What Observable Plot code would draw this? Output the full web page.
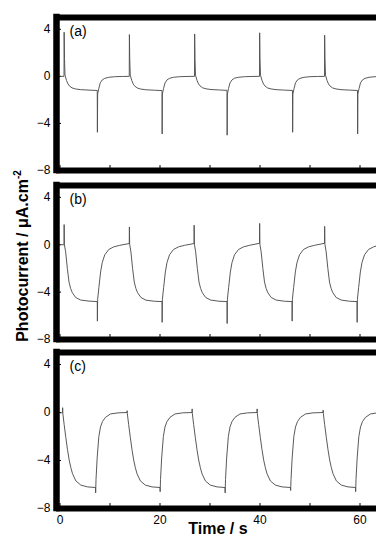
<!DOCTYPE html>
<html>
<head>
<meta charset="utf-8">
<script src="https://cdn.jsdelivr.net/npm/d3@7"></script>
<script src="https://cdn.jsdelivr.net/npm/@observablehq/plot@0.6"></script>
<style>
  html, body { margin: 0; padding: 0; background: #fff; }
  #fig { position: relative; width: 376px; height: 538px; overflow: hidden;
         font-family: "Liberation Sans", Arial, sans-serif; color: #000; }
  #fig svg { position: absolute; left: 0; }
  .axlab { position: absolute; font-weight: bold; font-size: 16px; line-height: 16px; white-space: nowrap; }
  .axlab sup { font-size: 10px; line-height: 0; vertical-align: 7px; }
</style>
</head>
<body>
<div id="fig"></div>
<script>
// ---------- data ----------
const panelLabels = ["(a)", "(b)", "(c)"];
const xTicks = [0, 20, 40, 60];
const xMinorTicks = [0, 10, 20, 30, 40, 50, 60];
const yTicks = [-8, -4, 0, 4];
const xDomain = [-0.7, 63.3];
const yDomain = [-8, 5];
const xLabel = "Time / s";
const yLabel = "Photocurrent / μA.cm";
const yLabelExp = "-2";

const timeA = [
  0.1, 0.8, 0.83, 0.9, 1.0, 1.3, 1.6, 1.9, 2.4, 3.1, 4.1, 5.8,
  7.45, 7.48, 7.53, 7.75, 8.05, 8.45, 8.95, 9.75, 10.95, 12.45,
  13.85, 13.88, 13.95, 14.05, 14.35, 14.65, 14.95, 15.45, 16.15, 17.15, 18.85,
  20.4, 20.43, 20.48, 20.7, 21.0, 21.4, 21.9, 22.7, 23.9, 25.4,
  26.9, 26.93, 27.0, 27.1, 27.4, 27.7, 28.0, 28.5, 29.2, 30.2, 31.9,
  33.4, 33.43, 33.48, 33.7, 34.0, 34.4, 34.9, 35.7, 36.9, 38.4,
  39.9, 39.93, 40.0, 40.1, 40.4, 40.7, 41.0, 41.5, 42.2, 43.2, 44.9,
  46.5, 46.53, 46.58, 46.8, 47.1, 47.5, 48.0, 48.8, 50.0, 51.5,
  52.9, 52.93, 53.0, 53.1, 53.4, 53.7, 54.0, 54.5, 55.2, 56.2, 57.9,
  59.5, 59.53, 59.58, 59.8, 60.1, 60.5, 61.0, 61.8, 63.0, 63.3
];
const currentA = [
  0, 0, 3.75, 1.5, 0.1, -0.35, -0.65, -0.82, -0.98, -1.07, -1.13, -1.17,
  -1.2, -4.75, -1.5, -1.05, -0.55, -0.3, -0.17, -0.08, -0.03, -0.01,
  0, 3.55, 1.4, 0.1, -0.35, -0.66, -0.83, -0.99, -1.08, -1.14, -1.18,
  -1.21, -4.9, -1.5, -1.05, -0.56, -0.3, -0.17, -0.08, -0.03, -0.01,
  0, 3.6, 1.45, 0.1, -0.34, -0.64, -0.81, -0.97, -1.06, -1.12, -1.16,
  -1.19, -5.0, -1.5, -1.04, -0.55, -0.3, -0.16, -0.08, -0.03, -0.01,
  0, 3.7, 1.5, 0.1, -0.35, -0.65, -0.82, -0.98, -1.07, -1.13, -1.17,
  -1.2, -4.75, -1.5, -1.05, -0.55, -0.3, -0.17, -0.08, -0.03, -0.01,
  0, 3.5, 1.4, 0.1, -0.35, -0.65, -0.82, -0.98, -1.07, -1.13, -1.17,
  -1.2, -4.9, -1.5, -1.05, -0.55, -0.3, -0.17, -0.08, -0.03, -0.03
];

const timeB = [
  0.1, 0.8, 0.83, 0.88, 1.13, 1.47, 1.8, 2.13, 2.47, 3.13, 4.13, 5.8,
  7.45, 7.48, 7.53, 7.78, 8.12, 8.45, 8.95, 9.75, 10.75, 11.95,
  13.85, 13.88, 13.93, 14.18, 14.52, 14.85, 15.18, 15.52, 16.18, 17.18, 18.85,
  20.4, 20.43, 20.48, 20.73, 21.07, 21.4, 21.9, 22.7, 23.7, 24.9,
  26.8, 26.83, 26.88, 27.13, 27.47, 27.8, 28.13, 28.47, 29.13, 30.13, 31.8,
  33.4, 33.43, 33.48, 33.73, 34.07, 34.4, 34.9, 35.7, 36.7, 37.9,
  39.9, 39.93, 39.98, 40.23, 40.57, 40.9, 41.23, 41.57, 42.23, 43.23, 44.9,
  46.4, 46.43, 46.48, 46.73, 47.07, 47.4, 47.9, 48.7, 49.7, 50.9,
  52.9, 52.93, 52.98, 53.23, 53.57, 53.9, 54.23, 54.57, 55.23, 56.23, 57.9,
  59.4, 59.43, 59.48, 59.73, 60.07, 60.4, 60.9, 61.7, 62.7, 63.3
];
const currentB = [
  0, 0, 1.7, 0.0, -0.6, -2.0, -3.15, -3.7, -4.05, -4.45, -4.67, -4.76,
  -4.8, -6.45, -4.6, -3.6, -2.3, -1.5, -0.85, -0.4, -0.18, -0.05,
  0.1, 1.5, 0.05, -0.6, -2.0, -3.15, -3.7, -4.05, -4.45, -4.68, -4.77,
  -4.8, -6.55, -4.6, -3.6, -2.3, -1.5, -0.85, -0.4, -0.18, -0.05,
  0.1, 1.65, 0.05, -0.6, -2.0, -3.15, -3.7, -4.05, -4.45, -4.67, -4.77,
  -4.8, -6.65, -4.6, -3.6, -2.3, -1.5, -0.85, -0.4, -0.18, -0.05,
  0.12, 1.8, 0.05, -0.6, -2.0, -3.15, -3.7, -4.05, -4.45, -4.67, -4.77,
  -4.8, -6.45, -4.6, -3.6, -2.3, -1.5, -0.85, -0.4, -0.18, -0.05,
  0.12, 1.55, 0.05, -0.6, -2.0, -3.15, -3.7, -4.05, -4.45, -4.67, -4.77,
  -4.8, -6.55, -4.6, -3.6, -2.3, -1.5, -0.85, -0.4, -0.18, -0.1
];

const timeC = [
  0.1, 0.5, 0.53, 0.57, 0.83, 1.17, 1.5, 1.83, 2.17, 2.5, 3.17, 4.17, 5.5,
  7.1, 7.13, 7.2, 7.43, 7.77, 8.1, 8.5, 9.1, 10.1, 11.6,
  13.4, 13.43, 13.47, 13.73, 14.07, 14.4, 14.73, 15.07, 15.4, 16.07, 17.07, 18.4,
  20.0, 20.03, 20.1, 20.33, 20.67, 21.0, 21.4, 22.0, 23.0, 24.5,
  26.4, 26.43, 26.47, 26.73, 27.07, 27.4, 27.73, 28.07, 28.4, 29.07, 30.07, 31.4,
  33.0, 33.03, 33.1, 33.33, 33.67, 34.0, 34.4, 35.0, 36.0, 37.5,
  39.4, 39.43, 39.47, 39.73, 40.07, 40.4, 40.73, 41.07, 41.4, 42.07, 43.07, 44.4,
  46.1, 46.13, 46.2, 46.43, 46.77, 47.1, 47.5, 48.1, 49.1, 50.6,
  52.6, 52.63, 52.67, 52.93, 53.27, 53.6, 53.93, 54.27, 54.6, 55.27, 56.27, 57.6,
  59.1, 59.13, 59.2, 59.43, 59.77, 60.1, 60.5, 61.1, 62.1, 63.3
];
const currentC = [
  -0.03, -0.03, 0.4, -0.1, -1.0, -2.1, -3.1, -3.95, -4.6, -5.1, -5.7, -6.05, -6.2,
  -6.25, -6.7, -5.6, -3.8, -2.0, -1.2, -0.75, -0.4, -0.12, -0.03,
  0, 0.15, -0.1, -1.0, -2.1, -3.1, -3.95, -4.6, -5.1, -5.7, -6.05, -6.2,
  -6.25, -6.6, -5.6, -3.8, -2.0, -1.2, -0.75, -0.4, -0.12, -0.03,
  0, 0.3, -0.1, -1.0, -2.1, -3.1, -3.95, -4.6, -5.1, -5.7, -6.05, -6.2,
  -6.25, -6.7, -5.6, -3.8, -2.0, -1.2, -0.75, -0.4, -0.12, -0.03,
  0, 0.3, -0.1, -1.0, -2.1, -3.1, -3.95, -4.6, -5.1, -5.7, -6.05, -6.2,
  -6.25, -6.5, -5.6, -3.8, -2.0, -1.2, -0.75, -0.4, -0.12, -0.03,
  0, 0.2, -0.1, -1.0, -2.1, -3.1, -3.95, -4.6, -5.1, -5.7, -6.05, -6.2,
  -6.25, -6.6, -5.6, -3.8, -2.0, -1.2, -0.75, -0.4, -0.12, -0.04
];

// ---------- layout ----------
const fig = document.getElementById("fig");
const font = '"Liberation Sans", Arial, sans-serif';
const panels = [
  {label: panelLabels[0], time: timeA, current: currentA, top: 0,   height: 176, mt: 17, mb: 6},
  {label: panelLabels[1], time: timeB, current: currentB, top: 177, height: 168, mt: 8,  mb: 6},
  {label: panelLabels[2], time: timeC, current: currentC, top: 344, height: 194, mt: 8,  mb: 30}
];

panels.forEach((p, i) => {
  const data = p.time.map((t, j) => ({t, v: p.current[j]}));
  const last = i === panels.length - 1;
  const svg = Plot.plot({
    width: 376,
    height: p.height,
    marginLeft: 56,
    marginRight: 0,
    marginTop: p.mt,
    marginBottom: p.mb,
    style: {fontFamily: font, fontSize: "12px", color: "#000", background: "transparent", overflow: "visible"},
    x: {domain: xDomain},
    y: {domain: yDomain},
    marks: [
      Plot.axisX(xMinorTicks, {tickSize: -5, fill: "none", label: null}),
      Plot.axisY(yTicks, {tickSize: -5, fill: "none", label: null}),
      Plot.axisY(yTicks, {tickSize: 0, tickPadding: 6, label: null, fontSize: 12}),
      last ? Plot.axisX(xTicks, {tickSize: 0, tickPadding: 7, label: null, fontSize: 12}) : null,
      Plot.line(data, {x: "t", y: "v", stroke: "#505050", strokeWidth: 0.95}),
      Plot.ruleY([yDomain[0], yDomain[1]], {stroke: "#000", strokeWidth: 6}),
      Plot.ruleX([xDomain[0]], {stroke: "#000", strokeWidth: 6.5, strokeLinecap: "square"}),
      Plot.text([p.label], {text: d => d, frameAnchor: "top-left", dx: 13, dy: 9,
        fontSize: 14, textAnchor: "start", lineAnchor: "top", fill: "#000"})
    ]
  });
  svg.style.top = p.top + "px";
  fig.appendChild(svg);
});

// axis titles
const yl = document.createElement("div");
yl.className = "axlab";
yl.innerHTML = yLabel + "<sup>" + yLabelExp + "</sup>";
yl.style.left = "22.5px";
yl.style.top = "256px";
yl.style.transform = "translate(-50%, -50%) rotate(-90deg)";
fig.appendChild(yl);

const xl = document.createElement("div");
xl.className = "axlab";
xl.textContent = xLabel;
xl.style.left = "218px";
xl.style.top = "523px";
xl.style.lineHeight = "12px";
xl.style.transform = "translateX(-50%)";
fig.appendChild(xl);
</script>
</body>
</html>
